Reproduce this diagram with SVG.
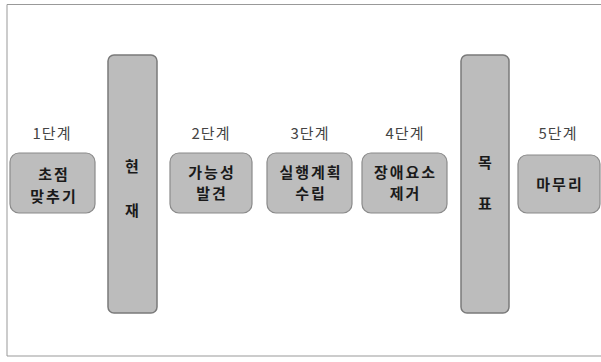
<svg xmlns="http://www.w3.org/2000/svg" width="601" height="362" viewBox="0 0 601 362">
<style>
.bar{fill:#bcbcbc;stroke:#7a7a7a;stroke-width:1.5}
.box{fill:#bdbdbd;stroke:#8a8a8a;stroke-width:1.2}
.t{font-family:"Noto Sans CJK KR","Noto Sans",sans-serif;font-weight:bold;font-size:15px;fill:#1a1a1a;text-anchor:middle;letter-spacing:2px}
.s{font-family:"Noto Sans CJK KR","Noto Sans",sans-serif;font-size:15px;fill:#444;text-anchor:middle;letter-spacing:1px}
</style>
<rect x="0" y="0" width="601" height="362" fill="#fff"/>
<path d="M601 4.5 H7 V356 H601" fill="none" stroke="#999" stroke-width="1"/>
<g id="connectors"></g>
<g id="current"><rect class="bar" x="108" y="55" width="49" height="258" rx="6"/><text class="t" x="133" y="172">현</text><text class="t" x="133" y="216">재</text></g>
<g id="goal"><rect class="bar" x="461" y="55" width="48" height="258" rx="6"/><text class="t" x="486" y="168">목</text><text class="t" x="486" y="209">표</text></g>
<g id="step1"><text class="s" x="52" y="139">1단계</text><rect class="box" x="10" y="153" width="85" height="60" rx="9"/><text class="t" x="54" y="180">초점</text><text class="t" x="54" y="202">맞추기</text></g>
<g id="step2"><text class="s" x="211" y="139">2단계</text><rect class="box" x="170" y="153" width="82" height="60" rx="9"/><text class="t" x="212" y="178">가능성</text><text class="t" x="212" y="199">발견</text></g>
<g id="step3"><text class="s" x="310" y="139">3단계</text><rect class="box" x="267" y="153" width="85" height="60" rx="9"/><text class="t" x="311" y="178">실행계획</text><text class="t" x="311" y="199">수립</text></g>
<g id="step4"><text class="s" x="405" y="139">4단계</text><rect class="box" x="362" y="153" width="85" height="60" rx="9"/><text class="t" x="405.5" y="178">장애요소</text><text class="t" x="405.5" y="199">제거</text></g>
<g id="step5"><text class="s" x="558" y="139">5단계</text><rect class="box" x="518" y="155" width="82" height="58" rx="9"/><text class="t" x="560" y="190">마무리</text></g>
</svg>
